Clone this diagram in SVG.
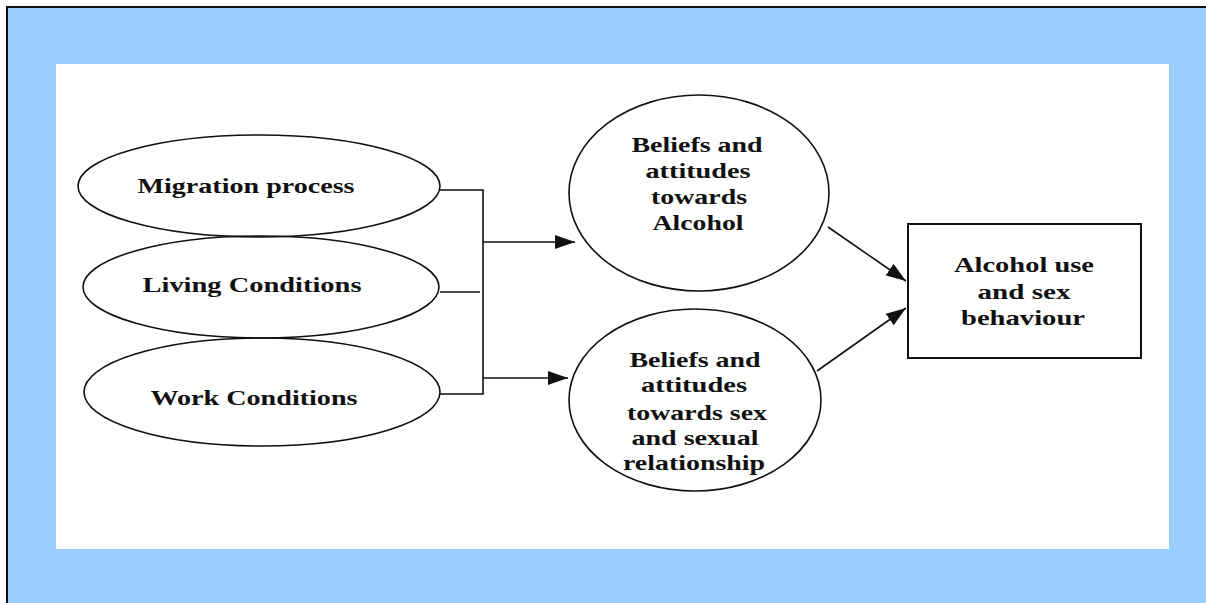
<svg xmlns="http://www.w3.org/2000/svg" width="1206" height="603" viewBox="0 0 1206 603">
<style>
.shape{fill:none;stroke:#111;stroke-width:1.6}
.box{fill:#fff;stroke:#111;stroke-width:2}
.ln{fill:none;stroke:#111;stroke-width:1.6}
.t{font-family:"Liberation Serif","Times New Roman",serif;font-weight:bold;font-size:22px;fill:#111;text-anchor:middle}
</style>
<defs>
<marker id="ah" markerUnits="userSpaceOnUse" markerWidth="20" markerHeight="14" refX="20" refY="7" orient="auto">
<path d="M0,0 L20,7 L0,14 Z" fill="#111"/>
</marker>
</defs>
<rect x="8" y="8" width="1198" height="595" fill="#99ccff"/>
<path d="M7,603 V7 H1206" fill="none" stroke="#111" stroke-width="2"/>
<rect x="56" y="64" width="1113" height="485" fill="#fff"/>

<g id="migration">
<ellipse class="shape" cx="259" cy="186" rx="181" ry="51"/>
<text class="t" x="246" y="193" textLength="217" lengthAdjust="spacingAndGlyphs">Migration process</text>
</g>
<g id="living">
<ellipse class="shape" cx="261" cy="287" rx="178" ry="51"/>
<text class="t" x="252" y="292" textLength="219" lengthAdjust="spacingAndGlyphs">Living Conditions</text>
</g>
<g id="work">
<ellipse class="shape" cx="262" cy="392" rx="178" ry="54"/>
<text class="t" x="254" y="405" textLength="207" lengthAdjust="spacingAndGlyphs">Work Conditions</text>
</g>
<g id="beliefs-alcohol">
<ellipse class="shape" cx="699" cy="193" rx="130" ry="98"/>
<text class="t" x="697" y="152" textLength="131" lengthAdjust="spacingAndGlyphs">Beliefs and</text>
<text class="t" x="698" y="178" textLength="105" lengthAdjust="spacingAndGlyphs">attitudes</text>
<text class="t" x="699" y="204" textLength="96" lengthAdjust="spacingAndGlyphs">towards</text>
<text class="t" x="698" y="230" textLength="91" lengthAdjust="spacingAndGlyphs">Alcohol</text>
</g>
<g id="beliefs-sex">
<ellipse class="shape" cx="695" cy="400" rx="126" ry="91"/>
<text class="t" x="695" y="367" textLength="131" lengthAdjust="spacingAndGlyphs">Beliefs and</text>
<text class="t" x="694" y="392" textLength="106" lengthAdjust="spacingAndGlyphs">attitudes</text>
<text class="t" x="697" y="420" textLength="140" lengthAdjust="spacingAndGlyphs">towards sex</text>
<text class="t" x="695" y="445" textLength="127" lengthAdjust="spacingAndGlyphs">and sexual</text>
<text class="t" x="694" y="470" textLength="142" lengthAdjust="spacingAndGlyphs">relationship</text>
</g>
<g id="outcome">
<rect class="box" x="908" y="224" width="233" height="134"/>
<text class="t" x="1024" y="272" textLength="140" lengthAdjust="spacingAndGlyphs">Alcohol use</text>
<text class="t" x="1024" y="299" textLength="93" lengthAdjust="spacingAndGlyphs">and sex</text>
<text class="t" x="1023" y="325" textLength="124" lengthAdjust="spacingAndGlyphs">behaviour</text>
</g>
<g id="connectors">
<path class="ln" d="M440,190 H483 V394 H440"/>
<path class="ln" d="M440,292 H480"/>
<path class="ln" d="M483,242 H575" marker-end="url(#ah)"/>
<path class="ln" d="M483,378 H568" marker-end="url(#ah)"/>
<path class="ln" d="M828,227 L906,281" marker-end="url(#ah)"/>
<path class="ln" d="M817,371 L906,308" marker-end="url(#ah)"/>
</g>
</svg>
